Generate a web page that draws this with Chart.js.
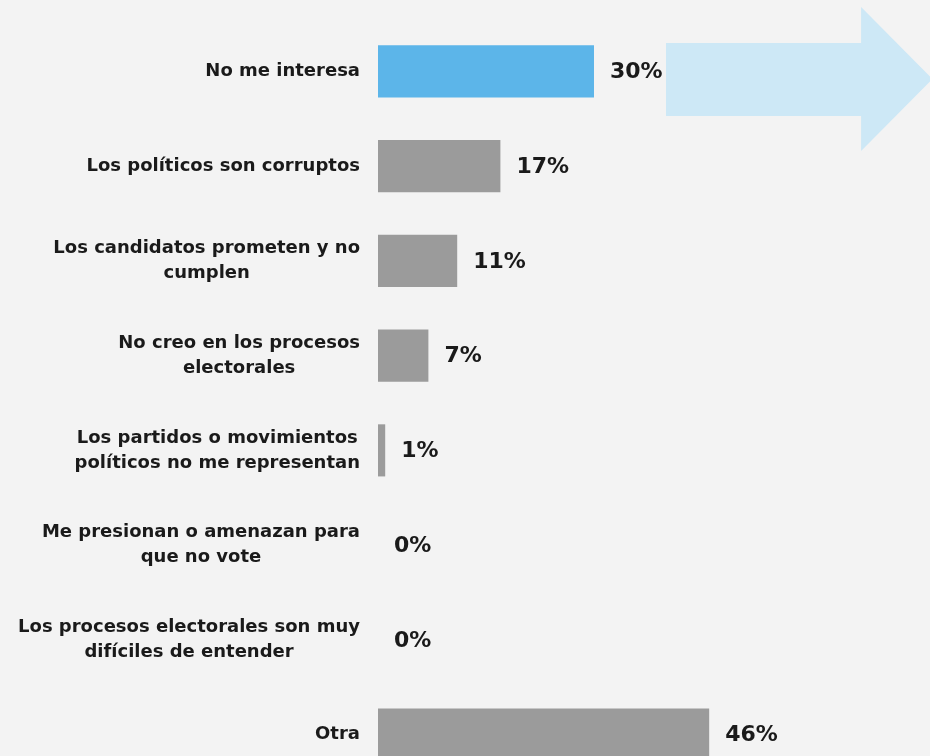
<!DOCTYPE html>
<html>
<head>
<meta charset="utf-8">
<script src="https://cdn.jsdelivr.net/npm/chart.js@4.4.1/dist/chart.umd.min.js"></script>
<style>
  html, body { margin: 0; padding: 0; background: #f3f3f3; overflow: hidden; }
  #wrap { width: 930px; height: 782px; position: relative; }
</style>
</head>
<body>
<div id="wrap"><canvas id="grafico"></canvas></div>
<script>
// datos de la gráfica
const categorias = [
    ['No me interesa'],
    ['Los políticos son corruptos'],
    ['Los candidatos prometen y no', 'cumplen'],
    ['No creo en los procesos', 'electorales'],
    ['Los partidos o movimientos', 'políticos no me representan'],
    ['Me presionan o amenazan para', 'que no vote'],
    ['Los procesos electorales son muy', 'difíciles de entender'],
    ['Otra']
];
const valores = [30, 17, 11, 7, 1, 0, 0, 46];
const colorDestacado = '#5cb5e9';
const colorNormal = '#9b9b9b';
const colorTexto = '#1a1a1a';

let coloresBarras = valores.map((v, i) => i === 0 ? colorDestacado : colorNormal);

// flecha decorativa y textos (etiquetas centradas en bloque + porcentajes)
const pluginTextos = {
    id: 'pluginTextos',
    beforeDatasetsDraw(chart) {
        let ctx = chart.ctx; let x = chart.scales.x;
        let x0 = x.getPixelForValue(40), xh = x.getPixelForValue(67.1), xt = x.getPixelForValue(77);
        ctx.save();
        ctx.fillStyle = '#cde8f6';
        ctx.beginPath();
        ctx.moveTo(x0, 43); ctx.lineTo(xh, 43); ctx.lineTo(xh, 7); ctx.lineTo(xt, 79);
        ctx.lineTo(xh, 151); ctx.lineTo(xh, 116); ctx.lineTo(x0, 116);
        ctx.closePath(); ctx.fill();
        ctx.restore();
    },
    afterDatasetsDraw(chart) {
        let ctx = chart.ctx; let y = chart.scales.y; let x = chart.scales.x;
        let meta = chart.getDatasetMeta(0);
        ctx.save();
        ctx.fillStyle = colorTexto;
        ctx.textBaseline = 'middle';
        ctx.font = 'bold 18px "DejaVu Sans"';
        let altoLinea = 25; let bordeDerecho = 360;
        categorias.forEach((lineas, i) => {
            let cy = y.getPixelForValue(i);
            let ancho = Math.max(...lineas.map(l => ctx.measureText(l).width));
            let cx = bordeDerecho - ancho / 2;
            ctx.textAlign = 'center';
            lineas.forEach((l, j) => {
                ctx.fillText(l, cx, cy + (j - (lineas.length - 1) / 2) * altoLinea);
            });
        });
        ctx.font = 'bold 22px "DejaVu Sans"';
        ctx.textAlign = 'left';
        valores.forEach((v, i) => {
            let bar = meta.data[i];
            ctx.fillText(v + '%', x.getPixelForValue(v) + 16, bar.y + 1);
        });
        ctx.restore();
    }
};

new Chart(document.getElementById('grafico'), {
    type: 'bar',
    data: {
        labels: categorias,
        datasets: [{ data: valores, backgroundColor: coloresBarras, borderWidth: 0, barPercentage: 0.55, categoryPercentage: 1 }]
    },
    options: {
        indexAxis: 'y', responsive: true, maintainAspectRatio: false, animation: false,
        layout: { padding: { left: 378, top: 24, right: 0, bottom: 0 } },
        plugins: { legend: { display: false }, tooltip: { enabled: false } },
        scales: {
            x: { min: 0, max: 76.67, display: false },
            y: { display: false }
        }
    },
    plugins: [pluginTextos]
});
</script>
</body>
</html>
